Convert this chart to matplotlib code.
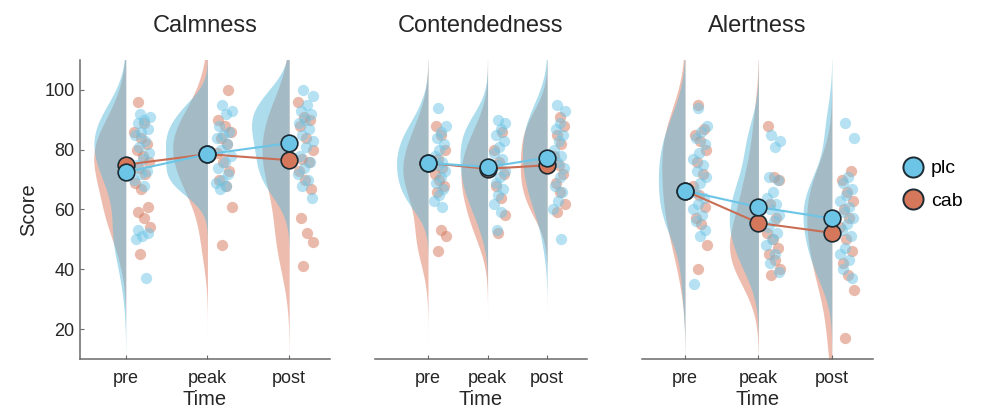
import numpy as np
import matplotlib
matplotlib.use('Agg')
import matplotlib.pyplot as plt
from matplotlib.lines import Line2D

plt.rcParams['font.family'] = ['Liberation Sans', 'DejaVu Sans']

# ---- data ----
times = ['pre', 'peak', 'post']
panels = ['Calmness', 'Contendedness', 'Alertness']

calm_plc = [
    [92, 91, 90, 89, 87, 86, 85, 83, 81, 79, 77, 75, 73, 72, 70, 68, 53, 52, 51, 50, 37],
    [95, 93, 92, 88, 86, 85, 84, 82, 80, 78, 76, 74, 72, 70, 69, 68, 67],
    [100, 98, 95, 93, 92, 90, 89, 87, 85, 83, 81, 78, 76, 74, 72, 70, 68, 64],
]
calm_cab = [
    [96, 89, 86, 84, 82, 80, 78, 76, 74, 72, 69, 67, 61, 59, 57, 54, 45],
    [100, 90, 88, 86, 84, 82, 79, 76, 73, 70, 68, 61, 48],
    [96, 91, 90, 88, 84, 80, 77, 76, 73, 70, 67, 57, 52, 49, 41],
]
cont_plc = [
    [94, 88, 86, 84, 82, 80, 78, 76, 75, 73, 71, 69, 67, 65, 63, 61],
    [90, 89, 87, 85, 83, 81, 79, 77, 75, 73, 71, 69, 67, 65, 62, 59, 53],
    [95, 93, 89, 87, 85, 83, 80, 78, 76, 74, 71, 68, 66, 63, 60, 50],
]
cont_cab = [
    [88, 85, 80, 77, 74, 72, 70, 68, 66, 53, 51, 46],
    [86, 80, 76, 72, 68, 64, 58, 52],
    [91, 88, 85, 82, 78, 75, 72, 69, 66, 62, 59],
]
alert_plc = [
    [94, 88, 86, 84, 82, 79, 77, 75, 73, 71, 69, 66, 64, 62, 60, 58, 56, 53, 51, 35],
    [85, 83, 81, 71, 70, 66, 64, 62, 60, 58, 56, 54, 52, 50, 48, 45, 42, 39],
    [89, 84, 71, 69, 67, 65, 63, 61, 59, 57, 55, 53, 51, 47, 45, 43, 40, 37],
]
alert_cab = [
    [95, 87, 85, 83, 80, 76, 72, 68, 65, 61, 57, 55, 48, 40],
    [88, 71, 70, 62, 57, 52, 50, 47, 45, 43, 40, 38],
    [73, 70, 66, 63, 60, 57, 54, 50, 46, 42, 38, 33, 17],
]

mean_plc = [[72.5, 78.5, 82.2], [75.6, 74.2, 77.3], [66.3, 60.8, 57.0]]
mean_cab = [[75.0, 78.5, 76.5], [75.6, 73.6, 74.8], [66.3, 55.5, 52.2]]

data_plc = [calm_plc, cont_plc, alert_plc]
data_cab = [calm_cab, cont_cab, alert_cab]

# ---- styles ----
c_plc = '#6cc5e6'
c_cab = '#d5775a'
v_plc = '#5cbadb'
v_cab = '#dd7a5e'
edge = '#1b2a33'
axcol = '#6a6a6a'
xlims = [(0.44, 3.5), (0.11, 3.67), (0.415, 3.56)]
lefts = [80, 375, 642]
rights = [330, 587, 873]
W = 16.0
grid = np.linspace(0, 120, 400)


def kde(vals, y):
    v = np.asarray(vals, float)
    n = len(v)
    h = 1.06 * v.std(ddof=1) * n ** (-0.2)
    d = np.exp(-0.5 * ((y[:, None] - v[None, :]) / h) ** 2).sum(1)
    return d / (n * h * np.sqrt(2 * np.pi))


def jitter(n):
    return 0.1 + 0.2 * ((np.arange(n) * 0.618 + 0.37) % 1)


fig = plt.figure(figsize=(9.9, 4.17), dpi=100)

for k, name in enumerate(panels):
    l = lefts[k] / 990
    w = (rights[k] - lefts[k]) / 990
    ax = fig.add_axes([l, 1 - 359 / 417, w, (359 - 60) / 417])
    xs = np.arange(1, 4)
    for i in range(3):
        x0 = xs[i]
        dc = kde(data_cab[k][i], grid)
        dp = kde(data_plc[k][i], grid)
        ax.fill_betweenx(grid, x0 - dc * W, x0, color=v_cab, alpha=0.5, lw=0)
        ax.fill_betweenx(grid, x0 - dp * W, x0, color=v_plc, alpha=0.5, lw=0)
        vc = data_cab[k][i]
        vp = data_plc[k][i]
        ax.scatter(x0 + jitter(len(vc))[::-1], vc, s=66, color=c_cab, alpha=0.5, lw=0, zorder=3)
        ax.scatter(x0 + jitter(len(vp)), vp, s=66, color=c_plc, alpha=0.5, lw=0, zorder=3)

    ax.plot(xs, mean_cab[k], color='#c96e55', lw=1.5, zorder=4)
    ax.plot(xs, mean_plc[k], color=c_plc, lw=1.5, zorder=4)
    ax.plot(xs, mean_cab[k], 'o', ms=12, mfc=c_cab, mec=edge, mew=1.2, zorder=5)
    ax.plot(xs, mean_plc[k], 'o', ms=12, mfc=c_plc, mec=edge, mew=1.2, zorder=6)

    ax.set_xlim(*xlims[k])
    ax.set_ylim(10, 110)
    ax.set_xticks(xs)
    ax.set_xticklabels(times)
    ax.tick_params(axis='both', direction='in', length=3, color=axcol,
                   labelsize=13, labelcolor='#262626')
    ax.tick_params(axis='x', pad=8)
    ax.tick_params(axis='y', pad=4)
    for s in ['top', 'right']:
        ax.spines[s].set_visible(False)
    ax.spines['bottom'].set_color(axcol)
    ax.spines['bottom'].set_linewidth(1.1)
    ax.set_xlabel('Time', fontsize=14.5, color='#262626', labelpad=2)
    ax.set_title(name, fontsize=17, color='#262626', pad=20)
    if k == 0:
        ax.set_yticks([20, 40, 60, 80, 100])
        ax.spines['left'].set_color(axcol)
        ax.spines['left'].set_linewidth(1.1)
        ax.set_ylabel('Score', fontsize=14.5, color='#262626', labelpad=4)
    else:
        ax.spines['left'].set_visible(False)
        ax.set_yticks([])

handles = [
    Line2D([], [], ls='none', marker='o', ms=14.5, mfc=c_plc, mec=edge, mew=1.4, label='plc'),
    Line2D([], [], ls='none', marker='o', ms=14.5, mfc=c_cab, mec=edge, mew=1.4, label='cab'),
]
fig.legend(handles=handles, loc='center left', bbox_to_anchor=(0.905, 0.557),
           frameon=False, fontsize=14, handlelength=1.0, handletextpad=0.4,
           labelspacing=0.75, borderaxespad=0)

fig.savefig('out.png', dpi=100)
